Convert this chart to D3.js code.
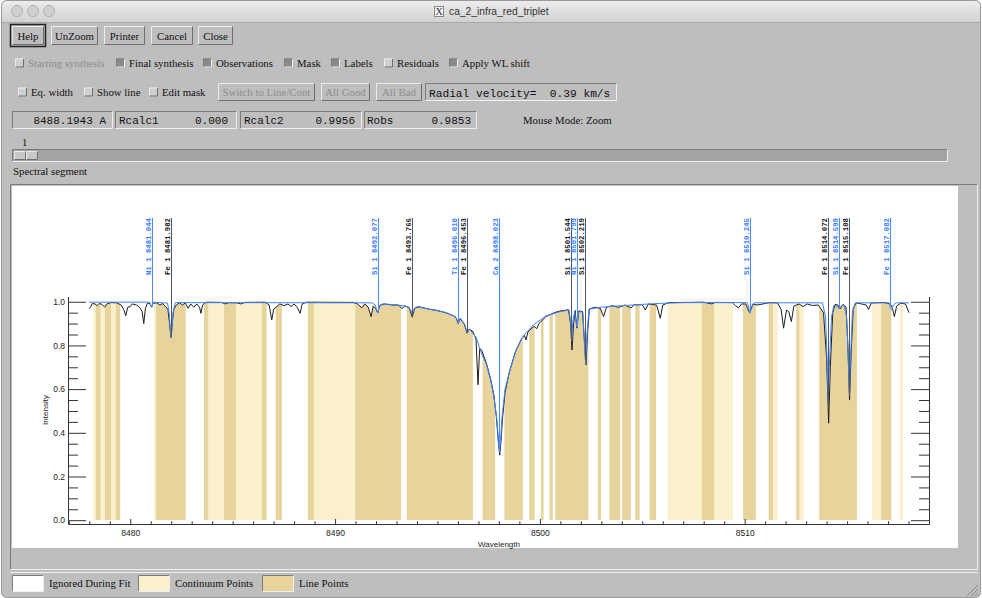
<!DOCTYPE html>
<html>
<head>
<meta charset="utf-8">
<script src="https://cdn.jsdelivr.net/npm/d3@7"></script>
<style>
body { margin: 0; background: #fff; overflow: hidden; }
</style>
</head>
<body>
<svg id="win" width="982" height="598"></svg>
<script>
// ---- data
// observed spectrum [wavelength, intensity]
const observed = [
  [8477.99,0.968],[8478.06,0.975],[8478.15,0.992],[8478.28,0.99],[8478.38,0.982],[8478.48,0.992],
  [8478.62,0.988],[8478.75,0.975],[8478.85,0.99],[8479.05,0.996],[8479.35,0.995],[8479.55,0.985],
  [8479.68,0.965],[8479.78,0.936],[8479.88,0.975],[8480.00,0.978],[8480.10,0.99],[8480.30,0.985],
  [8480.45,0.975],[8480.58,0.955],[8480.66,0.90],[8480.74,0.97],[8480.85,0.995],[8480.97,0.99],
  [8481.04,0.976],[8481.12,0.993],[8481.30,0.995],[8481.45,0.985],[8481.58,0.992],[8481.72,0.978],
  [8481.84,0.965],[8481.92,0.90],[8481.99,0.836],[8482.05,0.90],[8482.12,0.965],[8482.25,0.985],
  [8482.40,0.995],[8482.55,0.985],[8482.68,0.995],[8482.83,0.97],[8482.95,0.99],[8483.10,0.975],
  [8483.25,0.99],[8483.38,0.975],[8483.45,0.947],[8483.53,0.985],[8483.70,0.998],[8484.45,0.997],
  [8484.65,0.99],[8484.80,0.996],[8485.20,0.995],[8485.40,0.99],[8485.60,0.997],[8486.60,0.998],
  [8486.78,0.985],[8486.91,0.917],[8487.00,0.965],[8487.12,0.975],[8487.30,0.99],[8487.50,0.982],
  [8487.70,0.99],[8487.85,0.978],[8488.00,0.99],[8488.15,0.975],[8488.29,0.947],[8488.40,0.99],
  [8488.60,0.998],[8490.90,0.997],[8491.10,0.99],[8491.30,0.972],[8491.45,0.99],[8491.62,0.975],
  [8491.76,0.932],[8491.86,0.98],[8491.98,0.97],[8492.08,0.95],[8492.18,0.983],[8492.40,0.99],
  [8492.80,0.985],[8493.10,0.985],[8493.27,0.968],[8493.40,0.982],[8493.62,0.972],[8493.77,0.929],
  [8493.88,0.97],[8494.10,0.977],[8494.60,0.966],[8495.00,0.96],[8495.40,0.95],[8495.80,0.935],
  [8495.92,0.925],[8496.01,0.90],[8496.10,0.922],[8496.30,0.90],[8496.45,0.856],[8496.55,0.875],
  [8496.72,0.865],[8496.88,0.83],[8496.98,0.62],[8497.06,0.785],[8497.15,0.78],[8497.40,0.715],
  [8497.60,0.645],[8497.75,0.575],[8497.88,0.47],[8497.97,0.36],[8498.04,0.298],[8498.10,0.36],
  [8498.18,0.47],[8498.30,0.585],[8498.50,0.675],[8498.80,0.77],[8499.10,0.83],[8499.25,0.845],
  [8499.32,0.825],[8499.42,0.862],[8499.70,0.888],[8499.85,0.877],[8499.95,0.90],[8500.30,0.932],
  [8500.70,0.95],[8501.00,0.958],[8501.40,0.963],[8501.50,0.90],[8501.57,0.779],[8501.65,0.905],
  [8501.72,0.96],[8501.81,0.879],[8501.90,0.958],[8502.08,0.955],[8502.17,0.83],[8502.25,0.711],
  [8502.33,0.86],[8502.42,0.967],[8502.70,0.975],[8502.95,0.97],[8503.11,0.932],[8503.25,0.975],
  [8503.55,0.982],[8503.85,0.974],[8504.15,0.985],[8504.45,0.972],[8504.60,0.986],[8505.00,0.986],
  [8505.15,0.962],[8505.30,0.99],[8505.70,0.985],[8505.88,0.924],[8506.00,0.985],[8506.30,0.996],
  [8508.00,0.998],[8508.40,0.99],[8508.55,0.997],[8509.40,0.996],[8509.55,0.982],[8509.70,0.972],
  [8509.85,0.99],[8510.05,0.99],[8510.25,0.948],[8510.40,0.99],[8510.60,0.985],[8510.90,0.99],
  [8511.20,0.996],[8511.60,0.995],[8511.78,0.965],[8511.90,0.879],[8512.04,0.962],[8512.15,0.955],
  [8512.28,0.909],[8512.40,0.98],[8512.65,0.99],[8512.85,0.978],[8513.05,0.99],[8513.30,0.983],
  [8513.60,0.985],[8513.85,0.95],[8514.00,0.74],[8514.10,0.444],[8514.18,0.70],[8514.30,0.95],
  [8514.42,0.988],[8514.55,0.985],[8514.66,0.967],[8514.80,0.988],[8514.95,0.975],[8515.04,0.80],
  [8515.12,0.55],[8515.20,0.77],[8515.30,0.97],[8515.45,0.995],[8515.70,0.99],[8515.93,0.985],
  [8516.05,0.965],[8516.18,0.994],[8516.80,0.997],[8517.10,0.99],[8517.20,0.975],[8517.31,0.932],
  [8517.42,0.98],[8517.60,0.993],[8517.85,0.99],[8518.02,0.95]
];

// final synthesis [wavelength, intensity]
const synthesis = [
  [8477.99,0.998],[8480.95,0.998],[8481.04,0.974],[8481.12,0.998],[8481.82,0.994],[8481.91,0.94],
  [8481.96,0.865],[8481.99,0.84],[8482.03,0.87],[8482.09,0.95],[8482.20,0.996],[8491.80,0.995],
  [8491.96,0.985],[8492.04,0.96],[8492.08,0.948],[8492.15,0.975],[8492.30,0.99],[8493.00,0.986],
  [8493.60,0.976],[8493.70,0.96],[8493.77,0.945],[8493.85,0.965],[8494.00,0.977],[8494.60,0.966],
  [8495.40,0.951],[8495.88,0.932],[8496.01,0.905],[8496.12,0.925],[8496.33,0.895],[8496.45,0.86],
  [8496.56,0.875],[8496.90,0.835],[8497.10,0.775],[8497.40,0.71],[8497.60,0.64],[8497.75,0.57],
  [8497.90,0.46],[8497.98,0.36],[8498.03,0.31],[8498.08,0.36],[8498.15,0.47],[8498.30,0.60],
  [8498.55,0.69],[8498.85,0.78],[8499.20,0.845],[8499.70,0.895],[8500.30,0.935],[8501.00,0.955],
  [8501.42,0.962],[8501.50,0.91],[8501.55,0.82],[8501.61,0.91],[8501.70,0.955],[8501.80,0.885],
  [8501.89,0.955],[8502.10,0.952],[8502.18,0.80],[8502.23,0.715],[8502.30,0.85],[8502.40,0.966],
  [8503.00,0.975],[8504.00,0.982],[8505.00,0.988],[8506.00,0.993],[8507.00,0.996],[8510.12,0.996],
  [8510.20,0.975],[8510.25,0.948],[8510.31,0.972],[8510.45,0.995],[8513.80,0.995],[8513.95,0.93],
  [8514.02,0.75],[8514.08,0.535],[8514.14,0.72],[8514.24,0.93],[8514.36,0.985],[8514.52,0.978],
  [8514.60,0.967],[8514.68,0.978],[8514.85,0.986],[8514.98,0.93],[8515.06,0.73],[8515.11,0.572],
  [8515.17,0.74],[8515.26,0.95],[8515.40,0.995],[8517.05,0.995],[8517.12,0.968],[8517.18,0.962],
  [8517.26,0.985],[8517.40,0.995],[8518.02,0.995]
];

// mask regions [start, end] in Angstrom
const continuumBands = [
  [8478.19,8478.32],[8478.55,8478.76],[8479.06,8479.29],[8481.16,8481.26],[8483.81,8484.58],
  [8485.16,8486.42],[8488.97,8490.98],[8506.23,8507.91],[8508.51,8509.43],[8511.38,8511.61],
  [8512.68,8512.88],[8516.22,8516.66],[8517.57,8517.73]
];
const lineBands = [
  [8478.32,8478.55],[8478.76,8479.06],[8479.29,8479.51],[8481.26,8482.71],[8483.60,8483.81],
  [8484.58,8485.16],[8486.42,8486.66],[8487.10,8487.40],[8488.67,8488.97],[8490.98,8493.22],
  [8493.50,8496.73],[8497.20,8497.82],[8498.27,8499.17],[8499.48,8499.74],[8500.05,8500.18],
  [8500.47,8500.63],[8500.75,8502.37],[8502.83,8502.99],[8503.39,8503.92],[8504.02,8504.44],
  [8504.66,8504.87],[8505.36,8505.67],[8507.91,8508.51],[8509.92,8510.55],[8511.17,8511.38],
  [8512.52,8512.68],[8513.64,8515.48],[8516.66,8517.16]
];

// line identifications
const labelIons  = ['Ni 1','Fe 1','Si 1','Fe 1','Ti 1','Fe 1','Ca 2','Si 1','Ni 1','Si 1','Si 1','Fe 1','Si 1','Fe 1','Fe 1'];
const labelWaves = [8481.044,8481.982,8492.077,8493.766,8496.010,8496.453,8498.023,8501.544,8501.799,8502.219,8510.245,8514.072,8514.599,8515.108,8517.082];
const labelBlue  = [true,false,true,false,true,false,true,false,true,false,true,false,true,false,true];

const yMajor = [0, 0.2, 0.4, 0.6, 0.8, 1.0];
const xMajor = [8480, 8490, 8500, 8510];

// ---- window chrome
const svg = d3.select('#win');
const GREY = '#bebebe';
const serif = '"Liberation Serif","Times New Roman",serif';
const mono = '"Liberation Mono","DejaVu Sans Mono",monospace';
const sans = '"Liberation Sans",Arial,sans-serif';

const defs = svg.append('defs');
const tg = defs.append('linearGradient').attr('id','tbar').attr('x1',0).attr('y1',0).attr('x2',0).attr('y2',1);
tg.append('stop').attr('offset','0%').attr('stop-color','#ececec');
tg.append('stop').attr('offset','100%').attr('stop-color','#d2d2d2');

svg.append('rect').attr('x',1.5).attr('y',0.5).attr('width',979).attr('height',597)
  .attr('rx',5).attr('fill',GREY).attr('stroke','#9a9a9a');
svg.append('path').attr('d','M2,22V6a5,5 0 0 1 5,-5H975a5,5 0 0 1 5,5V22Z').attr('fill','url(#tbar)');
svg.append('line').attr('x1',2).attr('x2',980).attr('y1',22.5).attr('y2',22.5).attr('stroke','#a8a8a8');
[17,33,49].forEach(cx => svg.append('circle').attr('cx',cx).attr('cy',11).attr('r',5.5)
  .attr('fill','#d0d0d0').attr('stroke','#b0b0b0'));
svg.append('rect').attr('x',434.5).attr('y',6.5).attr('width',9).attr('height',10).attr('fill','#f4f4f4').attr('stroke','#888');
svg.append('text').attr('x',439).attr('y',15).attr('text-anchor','middle').attr('font-family',serif)
  .attr('font-size',10).attr('fill','#333').text('X');
svg.append('text').attr('x',449).attr('y',15).attr('font-family',sans).attr('font-size',10.3)
  .attr('fill','#333').text('ca_2_infra_red_triplet');

function bevel(x, y, w, h, raised, fill) {
  svg.append('rect').attr('x',x).attr('y',y).attr('width',w).attr('height',h).attr('fill',fill || GREY);
  const lt = raised ? '#ececec' : '#7c7c7c', dk = raised ? '#6e6e6e' : '#efefef';
  svg.append('path').attr('d',`M${x+0.5},${y+h-0.5}V${y+0.5}H${x+w-0.5}`).attr('stroke',lt).attr('fill','none');
  svg.append('path').attr('d',`M${x+w-0.5},${y+0.5}V${y+h-0.5}H${x+0.5}`).attr('stroke',dk).attr('fill','none');
}
function label(x, y, txt, opt) {
  opt = opt || {};
  return svg.append('text').attr('x',x).attr('y',y).attr('font-family',opt.font || serif)
    .attr('font-size',opt.size || 10.8).attr('fill',opt.fill || '#111')
    .attr('text-anchor',opt.anchor || 'start').style('white-space','pre').text(txt);
}
function button(x, y, w, h, txt, opt) {
  opt = opt || {};
  if (opt.def) svg.append('rect').attr('x',x-1.5).attr('y',y-1.5).attr('width',w+3).attr('height',h+3)
    .attr('fill','none').attr('stroke','#222').attr('stroke-width',1.5);
  bevel(x, y, w, h, true);
  label(x + w/2, y + h/2 + 4, txt, {anchor:'middle', fill: opt.grey ? '#8d8d8d' : '#111'});
}
function check(x, yc, on, txt, grey) {
  bevel(x, yc-4.5, 9, 9, !on, on ? '#8a8a8a' : '#cfcfcf');
  label(x + 13, yc + 4, txt, {fill: grey ? '#8d8d8d' : '#111'});
}
function field(x, y, w, h) { bevel(x, y, w, h, false); }

// row 1: buttons
button(12, 26, 32, 19, 'Help', {def:true});
button(51, 26, 47, 19, 'UnZoom');
button(104, 26, 41, 19, 'Printer');
button(151, 26, 42, 19, 'Cancel');
button(198, 26, 35, 19, 'Close');

// row 2: display toggles
check(15, 63, false, 'Starting synthesis', true);
check(116, 63, true, 'Final synthesis');
check(203, 63, true, 'Observations');
check(284, 63, true, 'Mask');
check(331, 63, true, 'Labels');
check(384, 63, false, 'Residuals');
check(449, 63, true, 'Apply WL shift');

// row 3
check(18, 92, false, 'Eq. width');
check(84, 92, false, 'Show line');
check(149, 92, false, 'Edit mask');
button(218, 83, 97, 18, 'Switch to Line/Cont', {grey:true});
button(321, 83, 49, 18, 'All Good', {grey:true});
button(376, 83, 46, 18, 'All Bad', {grey:true});
field(425, 83, 192, 18);
label(429, 96.5, 'Radial velocity=  0.39 km/s', {font:mono, size:11.2});

// row 4: readouts
field(12, 111, 101, 18);  label(106, 124, '8488.1943 A', {font:mono, size:11, anchor:'end'});
field(115, 111, 122, 18); label(119, 124, 'Rcalc1', {font:mono, size:11}); label(228, 124, '0.000', {font:mono, size:11, anchor:'end'});
field(240, 111, 122, 18); label(244, 124, 'Rcalc2', {font:mono, size:11}); label(355, 124, '0.9956', {font:mono, size:11, anchor:'end'});
field(364, 111, 113, 18); label(367, 124, 'Robs', {font:mono, size:11}); label(471, 124, '0.9853', {font:mono, size:11, anchor:'end'});
label(523, 124, 'Mouse Mode: Zoom');

// slider
label(22, 146, '1');
bevel(12, 149, 936, 13, false, '#a4a4a4');
bevel(14, 151, 12, 9, true, '#c8c8c8');
bevel(26, 151, 12, 9, true, '#c8c8c8');
label(13, 175, 'Spectral segment');

// drawing area frame
bevel(10, 184, 968, 386, false, GREY);
svg.append('rect').attr('x',12).attr('y',186).attr('width',946).attr('height',362).attr('fill','#fff');
svg.append('line').attr('x1',10).attr('x2',978).attr('y1',572.5).attr('y2',572.5).attr('stroke','#efefef');

// legend
const legendItems = [['Ignored During Fit','#ffffff',12],['Continuum Points','#faf0cc',138],['Line Points','#e6d49c',262]];
legendItems.forEach(([t, c, lx]) => {
  bevel(lx, 575, 32, 17, false, c);
  label(lx + 37, 587, t);
});
// resize grip
[0,4,8].forEach(o => svg.append('line').attr('x1',967+o).attr('y1',596).attr('x2',978).attr('y2',585+o)
  .attr('stroke','#8a8a8a'));

// ---- plot
const x = d3.scaleLinear().domain([8476.96, 8519.0]).range([68, 929]);
const y = d3.scaleLinear().domain([-0.0175, 1.024]).range([524, 296.5]);
const plot = svg.append('g');

const clip = defs.append('clipPath').attr('id','underObs');
clip.append('path').attr('d', d3.area().x(d => x(d[0])).y0(y(0)).y1(d => y(d[1]))(observed));

const bands = plot.append('g').attr('clip-path','url(#underObs)');
bands.selectAll('rect.cont').data(continuumBands).join('rect').attr('class','cont')
  .attr('x', d => x(d[0])).attr('width', d => x(d[1]) - x(d[0]))
  .attr('y', y(1.05)).attr('height', y(0) - y(1.05)).attr('fill','#faf0cc');
bands.selectAll('rect.line').data(lineBands).join('rect').attr('class','line')
  .attr('x', d => x(d[0])).attr('width', d => x(d[1]) - x(d[0]))
  .attr('y', y(1.05)).attr('height', y(0) - y(1.05)).attr('fill','#e6d49c');

// axes
const tickFont = g => g.selectAll('text').attr('font-family',sans).attr('font-size',8.5).attr('fill','#222');
const yMinor = d3.range(0, 1.001, 0.05).filter(v => !yMajor.some(m => Math.abs(m - v) < 1e-6));
const xMinor = d3.range(8477, 8519.5, 1).filter(v => !xMajor.includes(v));

plot.append('g').attr('transform','translate(68,0)')
  .call(d3.axisLeft(y).tickValues(yMajor).tickSize(-18).tickSizeOuter(0).tickPadding(3).tickFormat(d3.format('.1f')))
  .call(tickFont);
plot.append('g').attr('transform','translate(68,0)')
  .call(d3.axisLeft(y).tickValues(yMinor).tickSize(-10).tickSizeOuter(0).tickFormat(''))
  .call(g => g.select('.domain').remove());
plot.append('g').attr('transform','translate(929,0)')
  .call(d3.axisRight(y).tickValues(yMajor).tickSize(-18).tickSizeOuter(0).tickFormat(''));
plot.append('g').attr('transform','translate(929,0)')
  .call(d3.axisRight(y).tickValues(yMinor).tickSize(-10).tickSizeOuter(0).tickFormat(''))
  .call(g => g.select('.domain').remove());
plot.append('g').attr('transform','translate(0,524)')
  .call(d3.axisBottom(x).tickValues(xMajor).tickSize(-5).tickSizeOuter(0).tickPadding(6).tickFormat(d3.format('d')))
  .call(tickFont);
plot.append('g').attr('transform','translate(0,524)')
  .call(d3.axisBottom(x).tickValues(xMinor).tickSize(-2.7).tickSizeOuter(0).tickFormat(''))
  .call(g => g.select('.domain').remove());
plot.selectAll('.domain, .tick line').attr('stroke','#333');

plot.append('text').attr('transform','translate(48,410) rotate(-90)').attr('text-anchor','middle')
  .attr('font-family',sans).attr('font-size',8).attr('fill','#222').text('Intensity');
plot.append('text').attr('x',499).attr('y',547).attr('text-anchor','middle')
  .attr('font-family',sans).attr('font-size',8).attr('fill','#222').text('Wavelength');

// spectra
const line = d3.line().x(d => x(d[0])).y(d => y(d[1]));
plot.append('path').attr('d', line(observed)).attr('fill','none').attr('stroke','#1e1e1e').attr('stroke-width',1);
plot.append('path').attr('d', line(synthesis)).attr('fill','none').attr('stroke','#3d84ff').attr('stroke-width',1);

// line labels
const bis = d3.bisector(d => d[0]).left;
function valueAt(arr, w) {
  const i = Math.max(1, Math.min(arr.length - 1, bis(arr, w)));
  const a = arr[i-1], b = arr[i];
  return a[1] + (b[1] - a[1]) * (w - a[0]) / (b[0] - a[0]);
}
const labels = plot.append('g');
labelWaves.forEach((w, i) => {
  const col = labelBlue[i] ? '#3a7cff' : '#1a1a1a';
  const lx = Math.round(x(w)) + 0.5;
  const bottom = Math.min(valueAt(observed, w), valueAt(synthesis, w));
  labels.append('line').attr('x1',lx).attr('x2',lx).attr('y1',218).attr('y2',y(bottom))
    .attr('stroke', labelBlue[i] ? '#4a8cff' : '#555').attr('stroke-width',1);
  labels.append('text').attr('transform',`translate(${lx - 1.5},218) rotate(-90)`)
    .attr('text-anchor','end').attr('font-family',mono).attr('font-size',7.3).attr('font-weight','bold')
    .attr('fill',col).text(`${labelIons[i]} ${w.toFixed(3)}`);
});
</script>
</body>
</html>
